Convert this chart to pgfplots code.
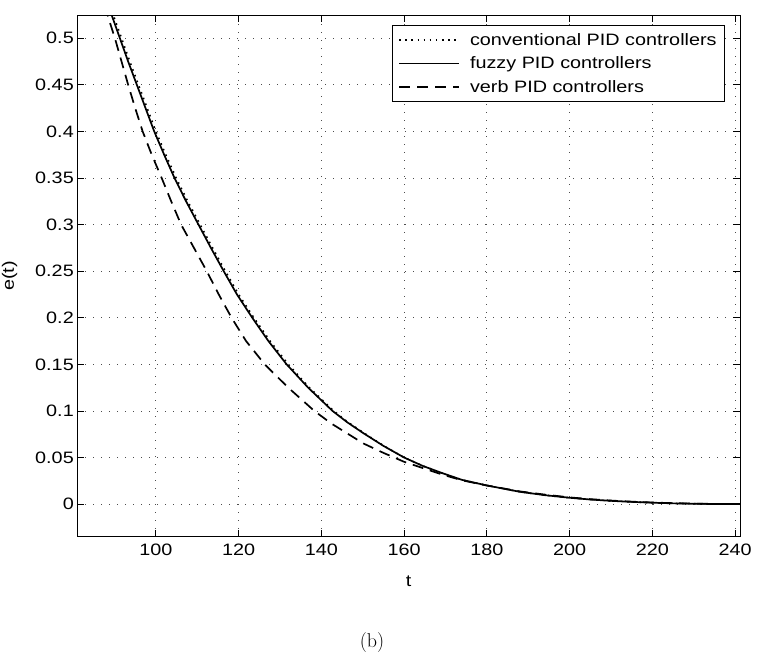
\documentclass[border=0pt]{standalone}
\usepackage{pgfplots}
\pgfplotsset{compat=1.18}
\usepackage{fontspec}
\setsansfont{Liberation Sans}[FakeStretch=1.2]

\pgfplotstableread{
t e
88.8 0.535
89.3 0.525
91.3 0.50
93.3 0.475
95.4 0.45
97.5 0.425
99.6 0.40
102.0 0.375
104.5 0.35
107.3 0.325
110.3 0.30
113.3 0.275
116.4 0.25
119.6 0.225
123.3 0.20
127.2 0.175
131.6 0.15
136.8 0.125
142.7 0.10
146.2 0.088
150.2 0.076
155 0.0625
160 0.050
164.5 0.041
169 0.0336
174 0.026
180 0.020
188 0.0132
194 0.0096
200 0.0068
205 0.0049
210 0.0035
215 0.0024
220 0.0015
225 0.0008
230 0.0004
235 0.0001
241.2 0
}\fuzzy

\pgfplotstableread{
t e
89.2 0.535
89.7 0.525
91.7 0.50
93.7 0.475
95.8 0.45
97.9 0.425
100.0 0.40
102.4 0.375
104.9 0.35
107.7 0.325
110.7 0.30
113.7 0.275
116.8 0.25
120.0 0.225
123.7 0.20
127.6 0.175
132.0 0.15
137.1 0.125
143.0 0.10
146.4 0.088
150.4 0.076
155.1 0.0625
160 0.050
164.5 0.041
169 0.0336
174 0.026
180 0.020
188 0.0132
194 0.0096
200 0.0068
205 0.0049
210 0.0035
215 0.0024
220 0.0015
225 0.0008
230 0.0004
235 0.0001
241.2 0
}\conventional

\pgfplotstableread{
t e
87.8 0.535
88.3 0.525
90.1 0.50
91.7 0.475
93.3 0.45
95.0 0.425
96.8 0.40
99.0 0.375
101.4 0.35
103.7 0.325
106.1 0.30
109.2 0.275
112.3 0.25
115.2 0.225
118.3 0.20
121.8 0.175
126.3 0.15
132.0 0.125
138.3 0.10
142.4 0.0865
150.2 0.065
155 0.055
160 0.0454
169 0.032
174 0.0255
180 0.020
188 0.0136
194 0.0102
200 0.0072
205 0.0053
210 0.0038
215 0.0026
220 0.0017
225 0.0010
230 0.0005
235 0.0002
241.2 0
}\verb

\begin{document}
\begin{tikzpicture}
\begin{axis}[
  scale only axis,
  width=662.7pt, height=521.7pt,
  xmin=81, xmax=241.2, ymin=-0.035, ymax=0.525,
  xtick={100,120,140,160,180,200,220,240},
  ytick={0,0.05,0.1,0.15,0.2,0.25,0.3,0.35,0.4,0.45,0.5},
  scaled y ticks=false,
  axis line style={line width=1pt},
  every tick/.style={black, line width=0.8pt},
  tick align=inside,
  major tick length=7pt,
  grid=major,
  major grid style={black!70, line width=0.8pt, dash pattern=on 0.8pt off 7.2pt},
  /pgf/number format/assume math mode=true,
  tick label style={font=\sffamily\fontsize{16.5}{18}\selectfont},
  yticklabel style={/pgf/number format/fixed, /pgf/number format/precision=2},
  xticklabel style={yshift=-4pt},
  label style={font=\sffamily\fontsize{16.5}{18}\selectfont},
  xlabel={t}, ylabel={e(t)},
  xlabel style={at={(axis description cs:0.5,-0.085)}, anchor=center},
  ylabel style={at={(axis description cs:-0.102,0.5)}, anchor=center},
  legend style={at={(axis description cs:1,1)}, anchor=north east,
    xshift=-15pt, yshift=-10pt, draw=black, line width=0.8pt,
    font=\sffamily\fontsize{16.5}{18}\selectfont,
    row sep=6pt, inner xsep=6pt, inner ysep=6pt,
    /tikz/every odd column/.append style={column sep=8pt}},
  legend cell align=left,
  legend image code/.code={\draw[#1] (0pt,0pt) -- (60pt,0pt);},
]
\addplot[black, line width=1.6pt, dash pattern=on 1.6pt off 4.5pt] table[x=t,y=e] {\conventional};
\addlegendentry{conventional PID controllers}
\addplot[black, line width=1.7pt] table[x=t,y=e] {\fuzzy};
\addlegendentry{fuzzy PID controllers}
\addplot[black, line width=1.7pt, dash pattern=on 11pt off 7pt] table[x=t,y=e] {\verb};
\addlegendentry{verb PID controllers}
\end{axis}
\path (current axis.south west) ++(294.7pt,-106.3pt) node[font=\rmfamily\fontsize{20}{22}\selectfont] {(b)};
\pgfresetboundingbox
\path (current axis.south west) ++(-77.3pt,-122.3pt) rectangle ++(760pt,659pt);
\end{tikzpicture}
\end{document}
